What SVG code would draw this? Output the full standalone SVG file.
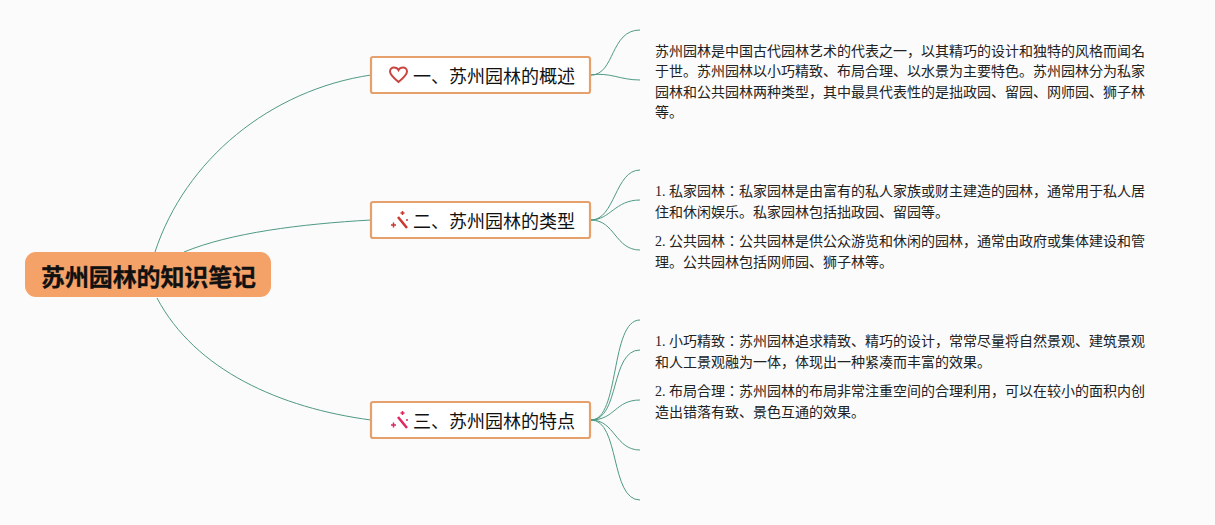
<svg xmlns="http://www.w3.org/2000/svg" width="1215" height="525" viewBox="0 0 1215 525">
<style>
.l{fill:none;stroke:#4f9a85;stroke-width:1}
.b{fill:#fff;stroke:#e6a06c;stroke-width:2.200}
.t{font-family:"Noto Sans CJK JP","Noto Sans CJK SC",sans-serif;font-size:18px;fill:#111}
.p{font-family:"Liberation Serif","Noto Sans CJK JP",serif;font-size:14px;fill:#222}
</style>
<rect width="1215" height="525" fill="#fbfbfb"/>
<g id="connectors">
<path class="l" d="M155 252C185 160 270 90 371 75"/>
<path class="l" d="M184 252C230 233 300 224 371 220"/>
<path class="l" d="M157 298C195 370 280 408 371 420"/>
<path class="l" d="M591 75C615 75 610 30 640 30"/>
<path class="l" d="M591 75C610 72 620 80 640 80"/>
<path class="l" d="M591 220C615 220 615 170 640 170"/>
<path class="l" d="M591 220C610 220 615 200 640 200"/>
<path class="l" d="M591 220C615 220 615 250 640 250"/>
<path class="l" d="M591 420C620 420 610 320 640 320"/>
<path class="l" d="M591 420C620 420 610 350 640 350"/>
<path class="l" d="M591 420C615 420 615 400 640 400"/>
<path class="l" d="M591 420C615 420 615 450 640 450"/>
<path class="l" d="M591 420C620 420 610 500 640 500"/>
</g>
<g id="root">
<rect x="25" y="252" width="246" height="45" rx="11" fill="#f4a268"/>
<text x="41" y="286" font-family="'Noto Sans CJK JP','Noto Sans CJK SC',sans-serif" font-size="24" font-weight="700" fill="#111" stroke="#111" stroke-width="0.300" textLength="215">苏州园林的知识笔记</text>
</g>
<g id="node1">
<rect class="b" x="371" y="57" width="219" height="36" rx="2"/>
<path d="M398.500 82C393 77.500 390 74.500 390 71.500C390 69 392 67.500 394 67.500C396 67.500 397.700 68.500 398.500 70C399.300 68.500 401 67.500 403 67.500C405 67.500 407 69 407 71.500C407 74.500 404 77.500 398.500 82Z" fill="none" stroke="#c9453f" stroke-width="2"/>
<text class="t" x="413" y="82.500">一、苏州园林的概述</text>
</g>
<g id="node2">
<rect class="b" x="371" y="202" width="219" height="36" rx="2"/>
<path d="M398 217L407 228" stroke="#c8392f" stroke-width="2.500" fill="none"/>
<path d="M391 225L396 225M393.500 222.500L393.500 227.500M400.500 213L404.500 213M402.500 211L402.500 215M406 220L408 220" stroke="#c8392f" stroke-width="1.500" fill="none"/>
<text class="t" x="413" y="227.500">二、苏州园林的类型</text>
</g>
<g id="node3">
<rect class="b" x="371" y="402" width="219" height="36" rx="2"/>
<path d="M398 417L407 428" stroke="#e0265f" stroke-width="2.500" fill="none"/>
<path d="M391 425L396 425M393.500 422.500L393.500 427.500M400.500 413L404.500 413M402.500 411L402.500 415M406 420L408 420" stroke="#e0265f" stroke-width="1.500" fill="none"/>
<text class="t" x="413" y="427.500">三、苏州园林的特点</text>
</g>
<g id="text1">
<text class="p" x="655" y="56">苏州园林是中国古代园林艺术的代表之一，以其精巧的设计和独特的风格而闻名</text>
<text class="p" x="655" y="76">于世。苏州园林以小巧精致、布局合理、以水景为主要特色。苏州园林分为私家</text>
<text class="p" x="655" y="97">园林和公共园林两种类型，其中最具代表性的是拙政园、留园、网师园、狮子林</text>
<text class="p" x="655" y="117">等。</text>
</g>
<g id="text2">
<text class="p" x="655" y="196">1. 私家园林：私家园林是由富有的私人家族或财主建造的园林，通常用于私人居</text>
<text class="p" x="655" y="217">住和休闲娱乐。私家园林包括拙政园、留园等。</text>
<text class="p" x="655" y="246">2. 公共园林：公共园林是供公众游览和休闲的园林，通常由政府或集体建设和管</text>
<text class="p" x="655" y="267">理。公共园林包括网师园、狮子林等。</text>
</g>
<g id="text3">
<text class="p" x="655" y="346">1. 小巧精致：苏州园林追求精致、精巧的设计，常常尽量将自然景观、建筑景观</text>
<text class="p" x="655" y="367">和人工景观融为一体，体现出一种紧凑而丰富的效果。</text>
<text class="p" x="655" y="396">2. 布局合理：苏州园林的布局非常注重空间的合理利用，可以在较小的面积内创</text>
<text class="p" x="655" y="417">造出错落有致、景色互通的效果。</text>
</g>
</svg>
